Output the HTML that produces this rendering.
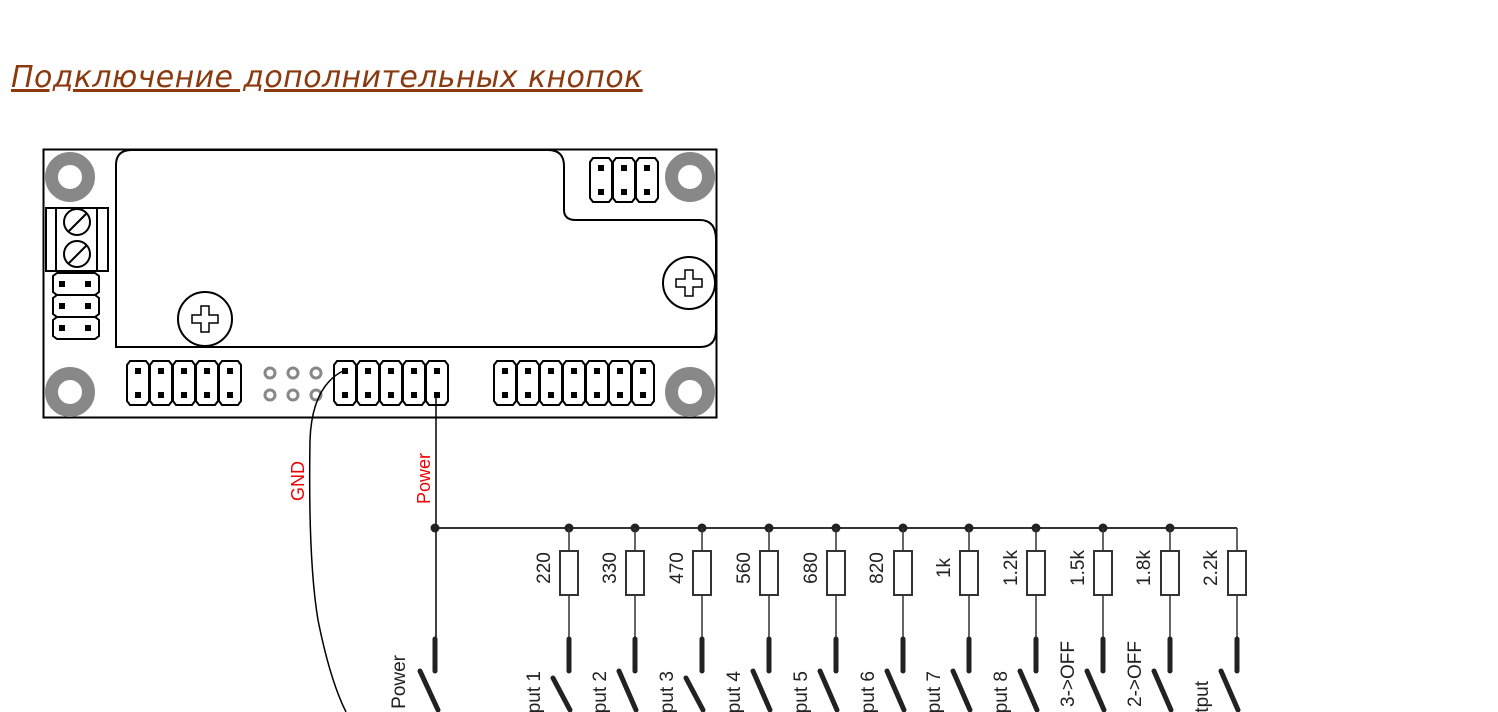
<!DOCTYPE html>
<html><head><meta charset="utf-8"><style>
html,body{margin:0;padding:0;background:#fff;width:1498px;height:712px;overflow:hidden}
.t{position:absolute;left:11px;top:60px;font-family:"DejaVu Sans","Liberation Sans",sans-serif;font-style:italic;font-size:30px;color:#8b3a0f;text-decoration:underline;white-space:nowrap;letter-spacing:0.4px}
svg{position:absolute;left:0;top:0}
</style></head><body>
<div class="t">Подключение дополнительных кнопок</div>
<svg width="1498" height="712" viewBox="0 0 1498 712" font-family="Liberation Sans, sans-serif">
<rect x="43.5" y="149.5" width="673" height="268" fill="#fff" stroke="#000" stroke-width="2"/>
<path d="M116 347 L116 165 Q116 150 132 150 L548 150 Q564 150 564 166 L564 210 Q564 220 576 220 L700 220 Q716 220 716 240 L716 330 Q716 347 700 347 Z" fill="none" stroke="#000" stroke-width="2"/>
<g fill="none" stroke="#888" stroke-width="13">
<circle cx="70" cy="177" r="18.5"/><circle cx="690" cy="177" r="18.5"/>
<circle cx="70" cy="392" r="18.5"/><circle cx="690" cy="392" r="18.5"/>
</g>
<g fill="#fff" stroke="#000" stroke-width="2">
<rect x="46" y="208" width="62" height="63"/>
<line x1="56" y1="208" x2="56" y2="271"/><line x1="97" y1="208" x2="97" y2="271"/>
<circle cx="77" cy="222" r="13"/><circle cx="77" cy="254" r="13"/>
<line x1="69" y1="231" x2="86" y2="214"/><line x1="69" y1="263" x2="86" y2="246"/>
<circle cx="205" cy="319" r="27"/><circle cx="689" cy="283" r="26"/>
</g>
<path d="M201 306h8v9h9v8h-9v9h-8v-9h-9v-8h9z" fill="#fff" stroke="#000" stroke-width="1.5"/>
<path d="M685 270h8v9h9v8h-9v9h-8v-9h-9v-8h9z" fill="#fff" stroke="#000" stroke-width="1.5"/>
<g fill="none" stroke="#888" stroke-width="3">
<circle cx="270" cy="373" r="5"/><circle cx="293" cy="373" r="5"/><circle cx="316" cy="373" r="5"/>
<circle cx="270" cy="395" r="5"/><circle cx="293" cy="395" r="5"/><circle cx="316" cy="395" r="5"/>
</g>
<g stroke="#000" stroke-width="2" fill="#fff">
<path id="v" d="M-11 -18 L-8 -22 L8 -22 L11 -18 L11 18 L8 22 L-8 22 L-11 18 Z" transform="translate(138,383)"/>
<use href="#v" x="23"/><use href="#v" x="46"/><use href="#v" x="69"/><use href="#v" x="92"/>
<use href="#v" x="207"/><use href="#v" x="230"/><use href="#v" x="253"/><use href="#v" x="276"/><use href="#v" x="299"/>
<use href="#v" x="367"/><use href="#v" x="390"/><use href="#v" x="413"/><use href="#v" x="436"/><use href="#v" x="459"/><use href="#v" x="482"/><use href="#v" x="505"/>
<use href="#v" x="463" y="-203"/><use href="#v" x="486" y="-203"/><use href="#v" x="509" y="-203"/>
<path d="M-23 -8 L-19 -11 L19 -11 L23 -8 L23 8 L19 11 L-19 11 L-23 8 Z" transform="translate(76,284)"/>
<path d="M-23 -8 L-19 -11 L19 -11 L23 -8 L23 8 L19 11 L-19 11 L-23 8 Z" transform="translate(76,306)"/>
<path d="M-23 -8 L-19 -11 L19 -11 L23 -8 L23 8 L19 11 L-19 11 L-23 8 Z" transform="translate(76,328)"/>
</g>
<g fill="#000">
<g id="pp"><rect x="-3" y="-15" width="6" height="6" transform="translate(138,383)"/><rect x="-3" y="9" width="6" height="6" transform="translate(138,383)"/></g>
<use href="#pp" x="23"/><use href="#pp" x="46"/><use href="#pp" x="69"/><use href="#pp" x="92"/>
<use href="#pp" x="207"/><use href="#pp" x="230"/><use href="#pp" x="253"/><use href="#pp" x="276"/><use href="#pp" x="299"/>
<use href="#pp" x="367"/><use href="#pp" x="390"/><use href="#pp" x="413"/><use href="#pp" x="436"/><use href="#pp" x="459"/><use href="#pp" x="482"/><use href="#pp" x="505"/>
<use href="#pp" x="463" y="-203"/><use href="#pp" x="486" y="-203"/><use href="#pp" x="509" y="-203"/>
<rect x="59" y="281" width="6" height="6"/><rect x="85" y="281" width="6" height="6"/>
<rect x="59" y="303" width="6" height="6"/><rect x="85" y="303" width="6" height="6"/>
<rect x="59" y="325" width="6" height="6"/><rect x="85" y="325" width="6" height="6"/>
</g>
<path d="M345 370 Q312 385 310 440 Q308 560 318 620 Q330 680 346 712" fill="none" stroke="#000" stroke-width="1.5"/>
<line x1="436" y1="394" x2="436" y2="637" stroke="#000" stroke-width="1.5"/>
<text transform="translate(304,501) rotate(-90)" font-size="18" fill="#e00">GND</text>
<text transform="translate(430,504) rotate(-90)" font-size="18" fill="#e00">Power</text>
<line x1="435" y1="528" x2="1237" y2="528" stroke="#333" stroke-width="2"/>
<line x1="1237" y1="528" x2="1237" y2="637" stroke="#333" stroke-width="1.5"/>
<g fill="#222"><circle cx="435" cy="528" r="4.5"/>
<circle cx="569" cy="528" r="4.5"/><circle cx="635" cy="528" r="4.5"/><circle cx="702" cy="528" r="4.5"/><circle cx="769" cy="528" r="4.5"/><circle cx="836" cy="528" r="4.5"/><circle cx="903" cy="528" r="4.5"/><circle cx="969" cy="528" r="4.5"/><circle cx="1036" cy="528" r="4.5"/><circle cx="1103" cy="528" r="4.5"/><circle cx="1170" cy="528" r="4.5"/></g>
<g stroke="#333" stroke-width="1.5">
<line x1="569" y1="528" x2="569" y2="637"/><line x1="635" y1="528" x2="635" y2="637"/><line x1="702" y1="528" x2="702" y2="637"/><line x1="769" y1="528" x2="769" y2="637"/><line x1="836" y1="528" x2="836" y2="637"/><line x1="903" y1="528" x2="903" y2="637"/><line x1="969" y1="528" x2="969" y2="637"/><line x1="1036" y1="528" x2="1036" y2="637"/><line x1="1103" y1="528" x2="1103" y2="637"/><line x1="1170" y1="528" x2="1170" y2="637"/>
</g>
<g fill="#fff" stroke="#333" stroke-width="2">
<rect x="560" y="551" width="18" height="44"/><rect x="626" y="551" width="18" height="44"/><rect x="693" y="551" width="18" height="44"/><rect x="760" y="551" width="18" height="44"/><rect x="827" y="551" width="18" height="44"/><rect x="894" y="551" width="18" height="44"/><rect x="960" y="551" width="18" height="44"/><rect x="1027" y="551" width="18" height="44"/><rect x="1094" y="551" width="18" height="44"/><rect x="1161" y="551" width="18" height="44"/><rect x="1228" y="551" width="18" height="44"/>
</g>
<g font-size="19" fill="#222" text-anchor="middle">
<text transform="translate(550,568) rotate(-90)">220</text>
<text transform="translate(616,568) rotate(-90)">330</text>
<text transform="translate(683,568) rotate(-90)">470</text>
<text transform="translate(750,568) rotate(-90)">560</text>
<text transform="translate(817,568) rotate(-90)">680</text>
<text transform="translate(883,568) rotate(-90)">820</text>
<text transform="translate(950,568) rotate(-90)">1k</text>
<text transform="translate(1017,568) rotate(-90)">1.2k</text>
<text transform="translate(1084,568) rotate(-90)">1.5k</text>
<text transform="translate(1150,568) rotate(-90)">1.8k</text>
<text transform="translate(1217,568) rotate(-90)">2.2k</text>
</g>
<g stroke="#222" stroke-width="5" stroke-linecap="round">
<line x1="435" y1="639" x2="435" y2="671"/><line x1="420" y1="671" x2="438" y2="710"/>
<line x1="569" y1="639" x2="569" y2="671"/><line x1="553" y1="678" x2="570" y2="710"/>
<line x1="635" y1="639" x2="635" y2="671"/><line x1="619" y1="671" x2="636" y2="710"/>
<line x1="702" y1="639" x2="702" y2="671"/><line x1="686" y1="678" x2="703" y2="710"/>
<line x1="769" y1="639" x2="769" y2="671"/><line x1="753" y1="671" x2="770" y2="710"/>
<line x1="836" y1="639" x2="836" y2="671"/><line x1="820" y1="671" x2="837" y2="710"/>
<line x1="903" y1="639" x2="903" y2="671"/><line x1="887" y1="671" x2="904" y2="710"/>
<line x1="969" y1="639" x2="969" y2="671"/><line x1="953" y1="671" x2="970" y2="710"/>
<line x1="1036" y1="639" x2="1036" y2="671"/><line x1="1020" y1="671" x2="1037" y2="710"/>
<line x1="1103" y1="639" x2="1103" y2="671"/><line x1="1087" y1="671" x2="1104" y2="710"/>
<line x1="1170" y1="639" x2="1170" y2="671"/><line x1="1154" y1="671" x2="1171" y2="710"/>
<line x1="1237" y1="639" x2="1237" y2="671"/><line x1="1221" y1="671" x2="1238" y2="710"/>
</g>
<g font-size="19" fill="#222" text-anchor="end">
<text transform="translate(405,655) rotate(-90)">Power</text>
<text transform="translate(540,671) rotate(-90)">Input 1</text>
<text transform="translate(606,671) rotate(-90)">Input 2</text>
<text transform="translate(673,671) rotate(-90)">Input 3</text>
<text transform="translate(740,671) rotate(-90)">Input 4</text>
<text transform="translate(807,671) rotate(-90)">Input 5</text>
<text transform="translate(874,671) rotate(-90)">Input 6</text>
<text transform="translate(940,671) rotate(-90)">Input 7</text>
<text transform="translate(1007,671) rotate(-90)">Input 8</text>
<text transform="translate(1074,641) rotate(-90)">Mode 3-&gt;OFF</text>
<text transform="translate(1141,641) rotate(-90)">Mode 2-&gt;OFF</text>
<text transform="translate(1208,681) rotate(-90)">Output</text>
</g>
</svg>
</body></html>
